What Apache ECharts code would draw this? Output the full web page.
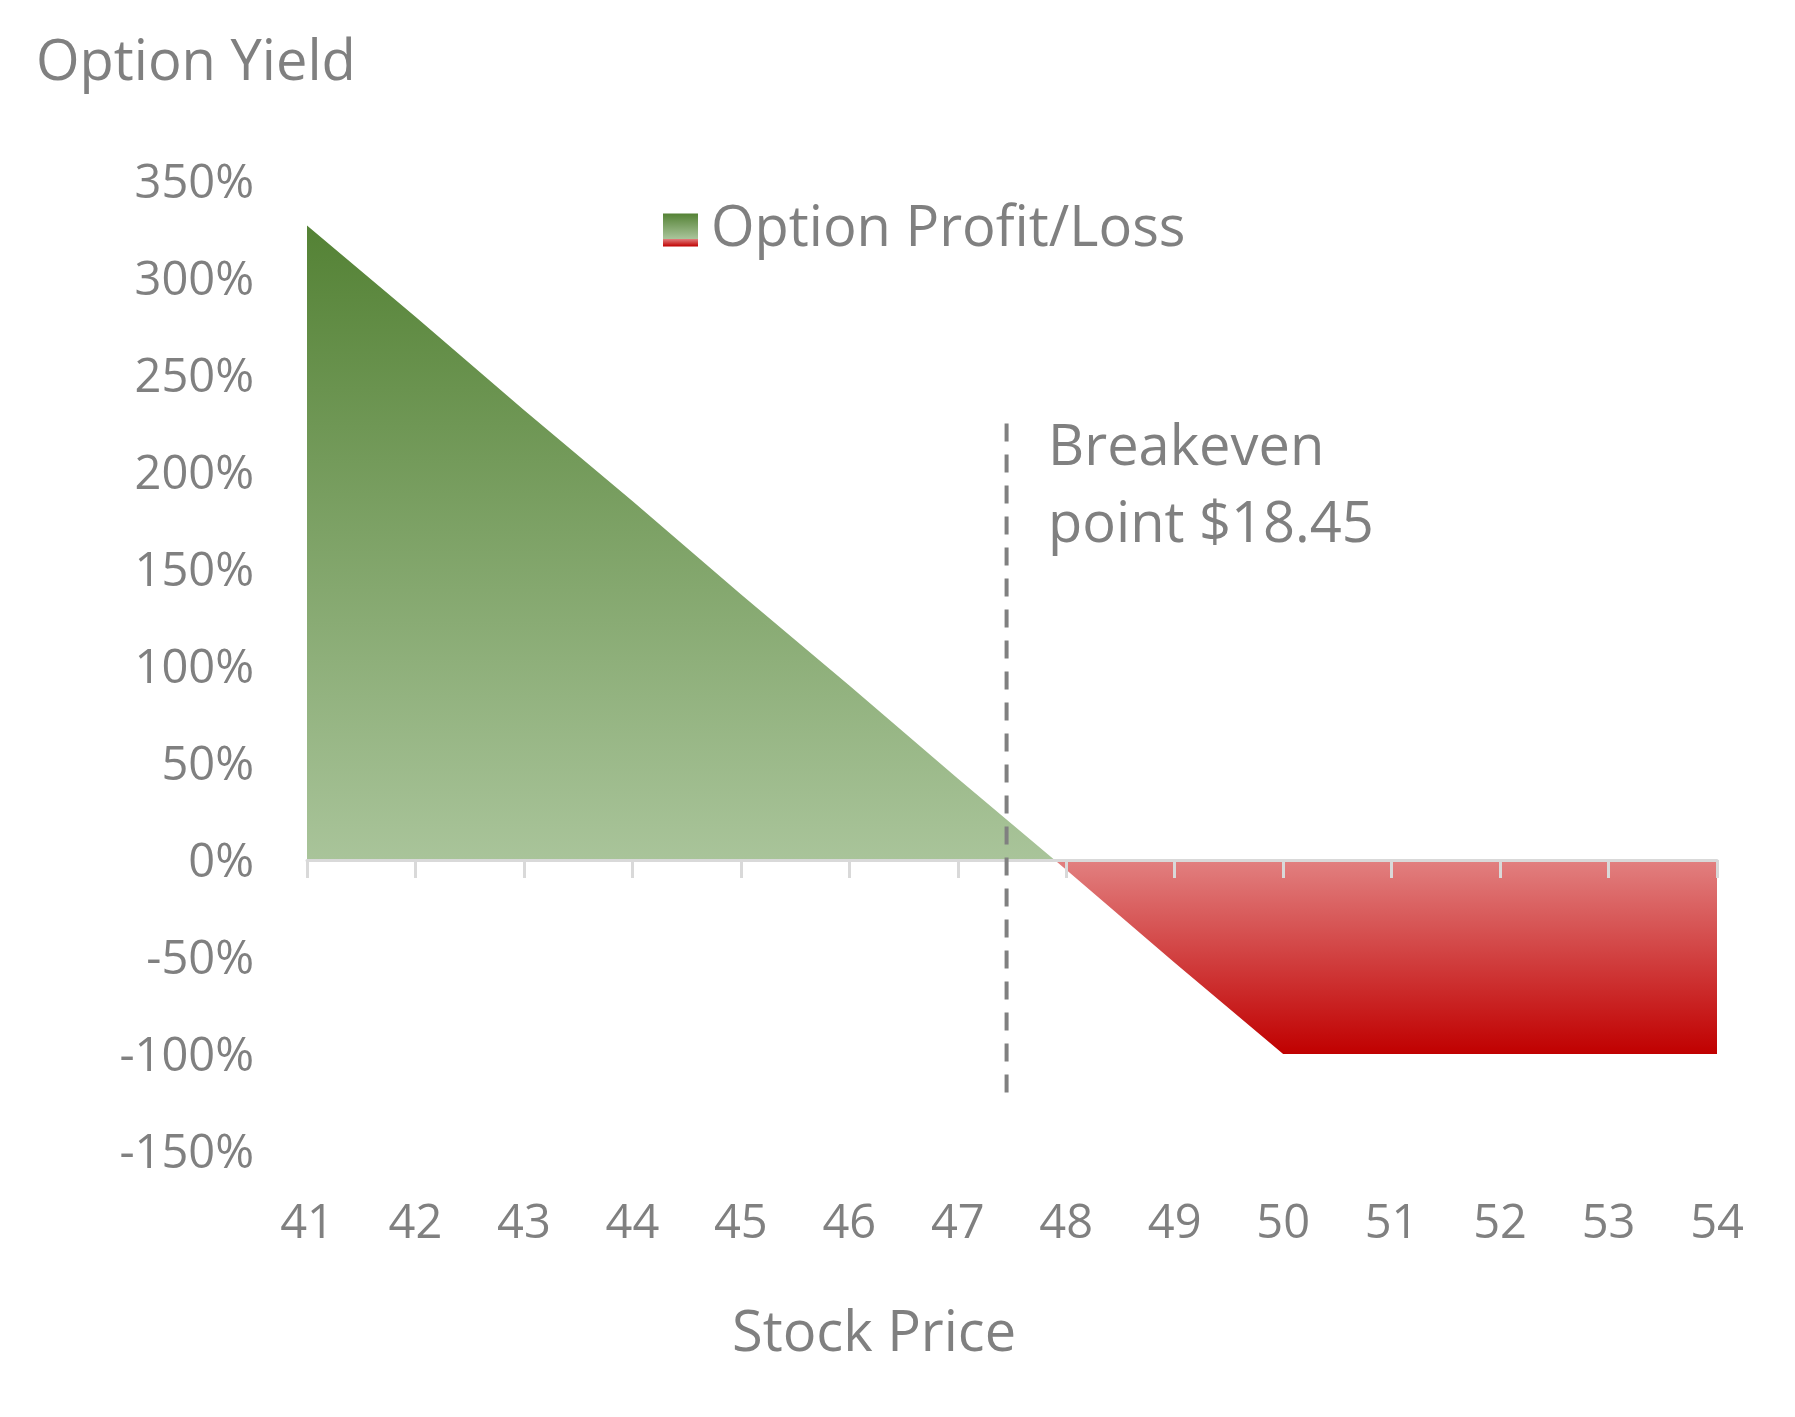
<!DOCTYPE html>
<html>
<head>
<meta charset="utf-8">
<title>Option Yield</title>
<script src="https://cdn.jsdelivr.net/npm/echarts@6/dist/echarts.min.js"></script>
<style>
  html, body { margin: 0; padding: 0; background: #fff; }
  #chart { width: 1795px; height: 1417px; }
</style>
</head>
<body>
<div id="chart"></div>
<script>
const stockPrices = [41, 42, 43, 44, 45, 46, 47, 48, 49, 50, 51, 52, 53, 54];
const optionYield = [327, 280, 232, 185, 137, 90, 42, -5, -53, -100, -100, -100, -100, -100];
const breakevenPrice = 47.45;
const breakevenSpan = [225, -126];
const breakevenText = "Breakeven\npoint $18.45";
const seriesName = "Option Profit/Loss";

const font = "'Open Sans', sans-serif";
const grey = "#808080";
const axisGrey = "#d9d9d9";

// share of the area above zero, so the green/red switch sits on the axis
const yieldMax = Math.max(...optionYield);
const yieldMin = Math.min(...optionYield);
const split = yieldMax / (yieldMax - yieldMin);

const fill = new echarts.graphic.LinearGradient(0, 0, 0, 1, [
  { offset: 0, color: "#548235" },
  { offset: split, color: "#a9c49a" },
  { offset: split, color: "#e28080" },
  { offset: 1, color: "#c00000" }
]);

const chart = echarts.init(document.getElementById("chart"));

const option = {
  animation: false,
  backgroundColor: "#fff",
  textStyle: { fontFamily: font },
  title: [
    {
      text: "Option Yield",
      left: 31,
      top: 31,
      textStyle: { fontFamily: font, fontSize: 56, fontWeight: "normal", color: grey, lineHeight: 56 }
    },
    {
      text: "Stock Price",
      left: 727,
      top: 1302,
      textStyle: { fontFamily: font, fontSize: 56, fontWeight: "normal", color: grey, lineHeight: 56 }
    }
  ],
  legend: {
    left: 658,
    top: 197,
    itemWidth: 35,
    itemHeight: 33,
    data: [{ name: seriesName, icon: "rect", itemStyle: { color: fill } }],
    textStyle: { fontFamily: font, fontSize: 56, color: grey, padding: [0, 0, 0, 8] }
  },
  grid: { left: 307, right: 78, top: 181, bottom: 266, containLabel: false, outerBoundsMode: "none" },
  xAxis: [
    {
      type: "value",
      min: stockPrices[0],
      max: stockPrices[stockPrices.length - 1],
      interval: 1,
      z: 5,
      axisLine: { onZero: true, lineStyle: { color: axisGrey, width: 3 } },
      axisTick: { show: true, length: 18, lineStyle: { color: axisGrey, width: 3 } },
      axisLabel: { show: false },
      splitLine: { show: false }
    },
    {
      type: "value",
      position: "bottom",
      min: stockPrices[0],
      max: stockPrices[stockPrices.length - 1],
      interval: 1,
      axisLine: { show: false, onZero: false },
      axisTick: { show: false },
      axisLabel: { fontFamily: font, fontSize: 47, color: grey, margin: 50, lineHeight: 47 },
      splitLine: { show: false }
    }
  ],
  yAxis: {
    type: "value",
    min: -150,
    max: 350,
    interval: 50,
    axisLine: { show: false },
    axisTick: { show: false },
    splitLine: { show: false },
    // short line box hung from the tick nudges the text a few px down
    axisLabel: { formatter: "{value}%", fontFamily: font, fontSize: 47, color: grey, margin: 53, verticalAlign: "top", lineHeight: 8 }
  },
  series: [
    {
      name: seriesName,
      type: "line",
      z: 1,
      symbol: "none",
      data: stockPrices.map((p, i) => [p, optionYield[i]]),
      lineStyle: { width: 0, opacity: 0 },
      itemStyle: { color: fill },
      areaStyle: { color: fill, opacity: 1 }
    },
    {
      name: "Breakeven",
      type: "line",
      z: 6,
      symbol: "circle",
      symbolSize: 1,
      itemStyle: { color: "rgba(0,0,0,0)" },
      lineStyle: { color: grey, width: 4, type: [18, 13] },
      data: [
        {
          value: [breakevenPrice, breakevenSpan[0]],
          label: {
            show: true,
            formatter: breakevenText,
            position: "right",
            distance: 41,
            offset: [0, 64],
            fontFamily: font,
            fontSize: 56,
            lineHeight: 77,
            color: grey
          }
        },
        [breakevenPrice, breakevenSpan[1]]
      ]
    }
  ]
};

chart.setOption(option);
</script>
</body>
</html>
